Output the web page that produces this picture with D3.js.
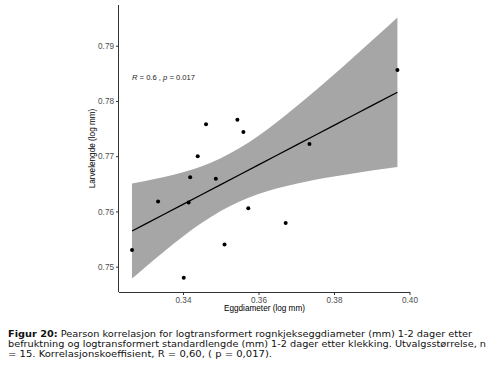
<!DOCTYPE html>
<html>
<head>
<meta charset="utf-8">
<script src="https://cdn.jsdelivr.net/npm/d3@7"></script>
<style>
  html, body { margin: 0; padding: 0; background: #fff; }
  svg { display: block; }
</style>
</head>
<body>
<svg id="chart" width="491" height="365"></svg>
<script>
// Observations (log mm)
const eggDiameter = [0.3265, 0.3334, 0.3402, 0.3415, 0.3419, 0.3439, 0.3461, 0.3487, 0.3510, 0.3544, 0.3560, 0.3573, 0.3672, 0.3735, 0.3968];
const larvaLength = [0.7530, 0.7618, 0.7480, 0.7616, 0.7662, 0.7700, 0.7758, 0.7659, 0.7540, 0.7766, 0.7744, 0.7606, 0.7579, 0.7722, 0.7856];

// Regression line and confidence band
const fitX     = [0.3265, 0.3300, 0.3350, 0.3400, 0.3450, 0.3500, 0.3550, 0.3600, 0.3650, 0.3700, 0.3750, 0.3800, 0.3850, 0.3900, 0.3968];
const fitY     = [0.75646, 0.75771, 0.75950, 0.76128, 0.76307, 0.76485, 0.76664, 0.76843, 0.77021, 0.77200, 0.77379, 0.77557, 0.77736, 0.77915, 0.78158];
const bandLow  = [0.74786, 0.74992, 0.75277, 0.75547, 0.75794, 0.76007, 0.76181, 0.76316, 0.76419, 0.76502, 0.76573, 0.76633, 0.76688, 0.76740, 0.76805];
const bandHigh = [0.76506, 0.76550, 0.76623, 0.76709, 0.76820, 0.76963, 0.77147, 0.77370, 0.77623, 0.77898, 0.78185, 0.78481, 0.78784, 0.79090, 0.79511];

const xTicks = [0.34, 0.36, 0.38, 0.40];
const yTicks = [0.75, 0.76, 0.77, 0.78, 0.79];
const xTickLabels = ["0.34", "0.36", "0.38", "0.40"];
const yTickLabels = ["0.75", "0.76", "0.77", "0.78", "0.79"];

const xTitle = "Eggdiameter (log mm)";
const yTitle = "Larvelengde (log mm)";
const statLabel = [["R", true], [" = 0.6 , ", false], ["p", true], [" = 0.017", false]];
const captionLines = [
  [["Figur 20:", true], [" Pearson korrelasjon for logtransformert rognkjekseggdiameter (mm) 1-2 dager etter", false]],
  [["befruktning og logtransformert standardlengde (mm) 1-2 dager etter klekking. Utvalgsstørrelse, n", false]],
  [["= 15. Korrelasjonskoeffisient, R = 0,60, ( p = 0,017).", false]]
];
const captionWidths = [464, 478, 264];

const svg = d3.select("#chart");
const mLeft = 119, mRight = 410, mTop = 5, mBottom = 292;

const x = d3.scaleLinear().domain([0.32305, 0.40013]).range([mLeft, mRight]);
const y = d3.scaleLinear().domain([0.74542, 0.79737]).range([mBottom, mTop]);

const fitData = fitX.map((v, i) => ({x: v, y: fitY[i], lo: bandLow[i], hi: bandHigh[i]}));

// Confidence band
svg.append("path")
  .datum(fitData)
  .attr("fill", "#a6a6a6")
  .attr("d", d3.area().x(d => x(d.x)).y0(d => y(d.lo)).y1(d => y(d.hi)).curve(d3.curveMonotoneX));

// Regression line
svg.append("path")
  .datum(fitData)
  .attr("fill", "none")
  .attr("stroke", "#000")
  .attr("stroke-width", 1.3)
  .attr("d", d3.line().x(d => x(d.x)).y(d => y(d.y)));

// Points
svg.append("g").selectAll("circle")
  .data(eggDiameter.map((v, i) => ({x: v, y: larvaLength[i]})))
  .join("circle")
  .attr("cx", d => x(d.x))
  .attr("cy", d => y(d.y))
  .attr("r", 2)
  .attr("fill", "#000");

// Axes
const axisColor = "#333";
const labelColor = "#4d4d4d";
const font = "'Liberation Sans', Arial, sans-serif";

const xAxis = svg.append("g")
  .attr("transform", `translate(0,${mBottom})`)
  .call(d3.axisBottom(x).tickValues(xTicks).tickFormat((d, i) => xTickLabels[i]).tickSize(3).tickSizeOuter(0).tickPadding(2));
const yAxis = svg.append("g")
  .attr("transform", `translate(${mLeft},0)`)
  .call(d3.axisLeft(y).tickValues(yTicks).tickFormat((d, i) => yTickLabels[i]).tickSize(3).tickSizeOuter(0).tickPadding(2));

[xAxis, yAxis].forEach(g => {
  g.select(".domain").attr("stroke", axisColor).attr("stroke-width", 1);
  g.selectAll(".tick line").attr("stroke", axisColor).attr("stroke-width", 1);
  g.selectAll(".tick text").attr("fill", labelColor).attr("font-family", font).attr("font-size", 8.2);
});
xAxis.select(".domain").attr("d", `M${mLeft},0.5H${mRight}`);
yAxis.select(".domain").attr("d", `M-0.5,${mTop}V${mBottom}`);

// Axis titles
svg.append("text")
  .attr("x", (mLeft + mRight) / 2)
  .attr("y", 311)
  .attr("text-anchor", "middle")
  .attr("font-family", font)
  .attr("font-size", 8.2)
  .attr("fill", "#000")
  .text(xTitle);

svg.append("text")
  .attr("transform", `translate(95,${(mTop + mBottom) / 2}) rotate(-90)`)
  .attr("text-anchor", "middle")
  .attr("font-family", font)
  .attr("font-size", 8.2)
  .attr("fill", "#000")
  .text(yTitle);

// Correlation annotation
const stat = svg.append("text")
  .attr("x", 132)
  .attr("y", 80)
  .attr("font-family", font)
  .attr("font-size", 7.6)
  .attr("fill", "#222");
statLabel.forEach(([t, it]) => {
  stat.append("tspan").attr("font-style", it ? "italic" : "normal").text(t);
});

// Caption
const capFont = "'DejaVu Sans', Verdana, sans-serif";
captionLines.forEach((parts, i) => {
  const t = svg.append("text")
    .attr("x", 8)
    .attr("y", 337 + i * 10)
    .attr("font-family", capFont)
    .attr("font-size", 9)
    .attr("fill", "#111");
  if (captionWidths[i] > 0) t.attr("textLength", captionWidths[i]).attr("lengthAdjust", "spacingAndGlyphs");
  parts.forEach(([s, b]) => {
    t.append("tspan").attr("font-weight", b ? "bold" : "normal").text(s);
  });
});
</script>
</body>
</html>
